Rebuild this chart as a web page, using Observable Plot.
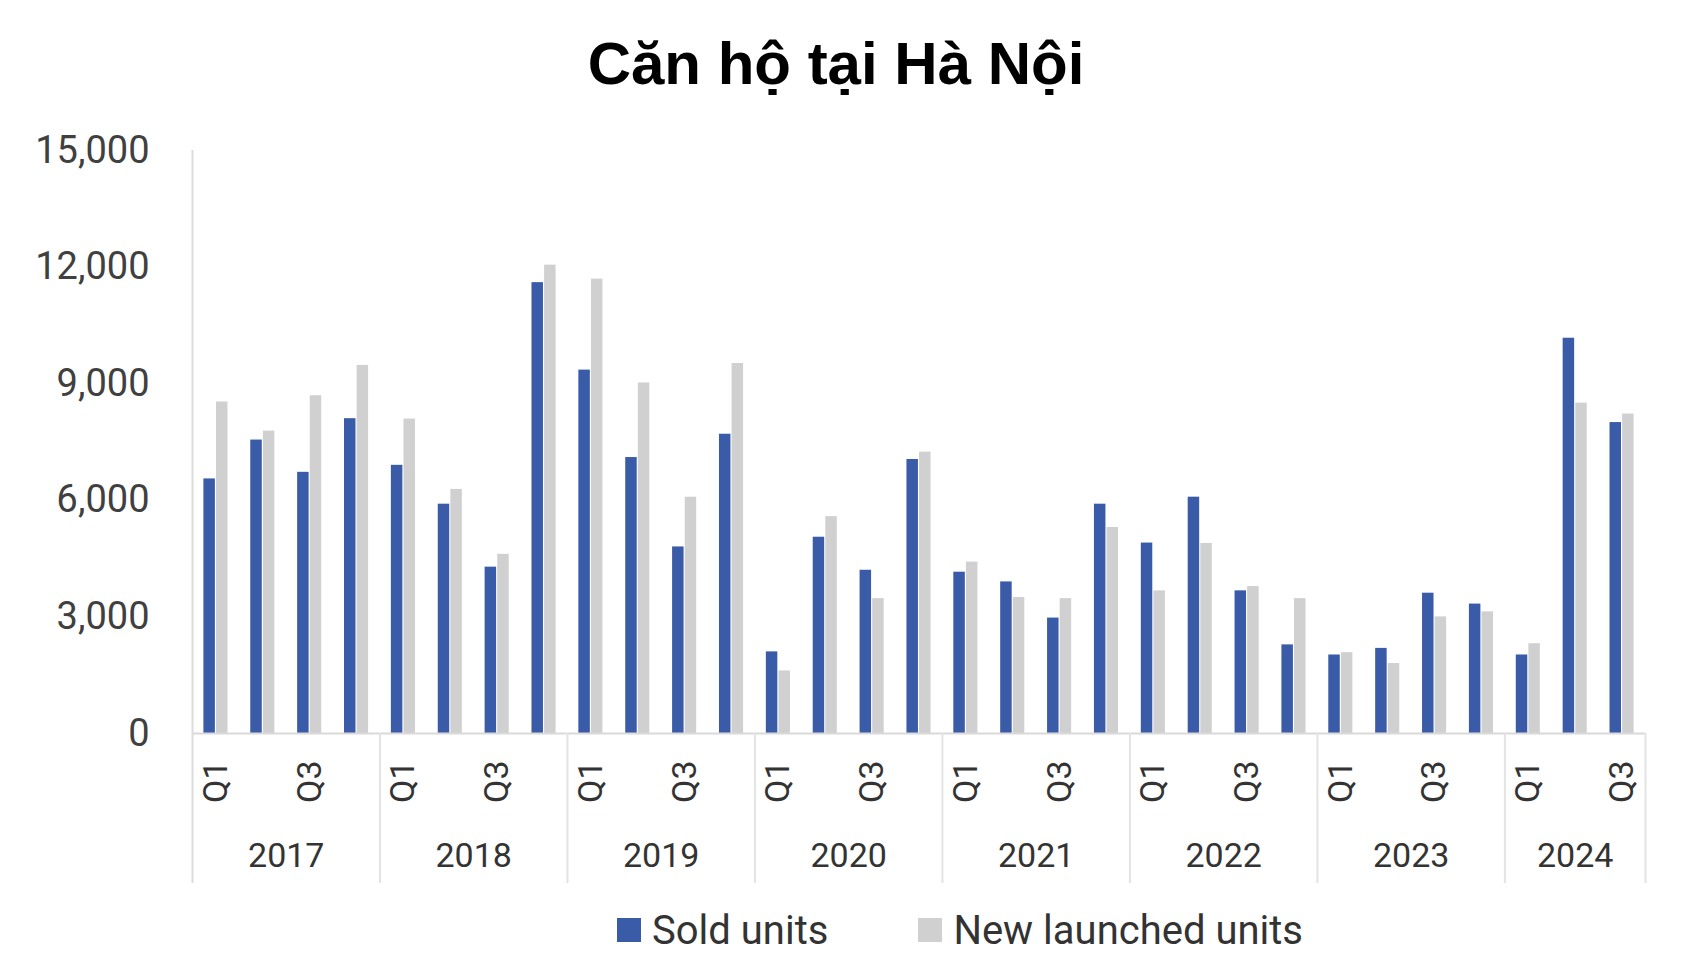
<!DOCTYPE html>
<html><head><meta charset="utf-8">
<script src="https://cdn.jsdelivr.net/npm/d3@7"></script>
<script src="https://cdn.jsdelivr.net/npm/@observablehq/plot@0.6"></script>
<style>
body{margin:0;background:#fff;}
#title{width:1672px;height:130px;line-height:130px;text-align:center;font:bold 60px "Liberation Sans",Arial,sans-serif;color:#000;overflow:visible;}
#title span{position:relative;top:29px;}
#legend{height:40px;display:flex;align-items:center;padding-left:617px;font:40px Roboto,sans-serif;color:#333;}
.sw{width:24px;height:24px;margin-right:11px;flex:none;}
.item{display:flex;align-items:center;}
</style></head><body>
<div id="title"><span>Căn hộ tại Hà Nội</span></div>
<div id="chart"></div>
<div id="legend"></div>
<script>
const years = ["2017","2018","2019","2020","2021","2022","2023","2024"];
const quartersPerYear = [4,4,4,4,4,4,4,3];
const quarterNames = ["Q1","Q2","Q3","Q4"];
const shownQuarters = ["Q1","Q3"];
const soldUnits = [6550,7550,6720,8100, 6900,5900,4280,11600, 9350,7100,4800,7700, 2100,5050,4200,7050, 4150,3900,2970,5900, 4900,6080,3670,2280, 2020,2190,3610,3330, 2020,10170,8000];
const newLaunchedUnits = [8530,7780,8690,9470, 8090,6280,4610,12050, 11690,9020,6080,9520, 1610,5580,3470,7240, 4410,3500,3470,5300, 3670,4890,3780,3470, 2080,1800,3000,3130, 2310,8500,8220];
const yTicks = [0,3000,6000,9000,12000,15000];
const seriesNames = ["Sold units","New launched units"];
const seriesColors = ["#3a5ba8","#d0d0d0"];

const rows = [];
const yearSpans = [];
let idx = 0;
years.forEach((y, k) => {
  const start = idx;
  for (let q = 0; q < quartersPerYear[k]; q++) {
    rows.push({i: idx, year: y, quarter: quarterNames[q], sold: soldUnits[idx], launched: newLaunchedUnits[idx]});
    idx++;
  }
  yearSpans.push({year: y, start, end: idx});
});
const n = rows.length;
const boundaries = yearSpans.map(d => d.end);
const BAR = 0.245, GAP = 0.012;

const plot = Plot.plot({
  width: 1703, height: 780,
  marginLeft: 192, marginRight: 58, marginTop: 20, marginBottom: 177,
  x: {type: "linear", domain: [0, n], axis: null},
  y: {domain: [0, 15000], axis: null},
  style: {fontFamily: "Roboto, sans-serif", color: "#404040", background: "#fff", overflow: "visible"},
  marks: [
    Plot.axisY({ticks: yTicks, tickSize: 0, tickPadding: 43, tickFormat: d3.format(","), fontSize: 38, fill: "#404040", label: null}),
    Plot.rectY(rows, {x1: d => d.i + 0.5 - GAP - BAR, x2: d => d.i + 0.5 - GAP, y: "sold", fill: seriesColors[0]}),
    Plot.rectY(rows, {x1: d => d.i + 0.5 + GAP, x2: d => d.i + 0.5 + GAP + BAR, y: "launched", fill: seriesColors[1]}),
    Plot.ruleY([0], {stroke: "#d9d9d9", strokeWidth: 2}),
    Plot.ruleX([0], {stroke: "#dcdcdc", strokeWidth: 2, insetBottom: -150}),
    Plot.ruleX(boundaries, {stroke: "#e3e3e3", strokeWidth: 2, insetTop: 583, insetBottom: -150}),
    Plot.text(rows.filter(d => shownQuarters.includes(d.quarter)), {x: d => d.i + 0.5, text: "quarter", frameAnchor: "bottom", rotate: -90, textAnchor: "end", lineAnchor: "middle", dy: 27, fontSize: 34, fill: "#333"}),
    Plot.text(yearSpans, {x: d => (d.start + d.end) / 2, text: "year", frameAnchor: "bottom", dy: 123, lineAnchor: "middle", fontSize: 34, fill: "#333"})
  ]
});
document.getElementById("chart").append(plot);

const legend = document.getElementById("legend");
seriesNames.forEach((name, k) => {
  const item = document.createElement("div");
  item.className = "item";
  if (k > 0) item.style.marginLeft = "90px";
  const sw = document.createElement("div");
  sw.className = "sw";
  sw.style.background = seriesColors[k];
  const label = document.createElement("span");
  label.textContent = name;
  item.append(sw, label);
  legend.append(item);
});
</script>
</body></html>
